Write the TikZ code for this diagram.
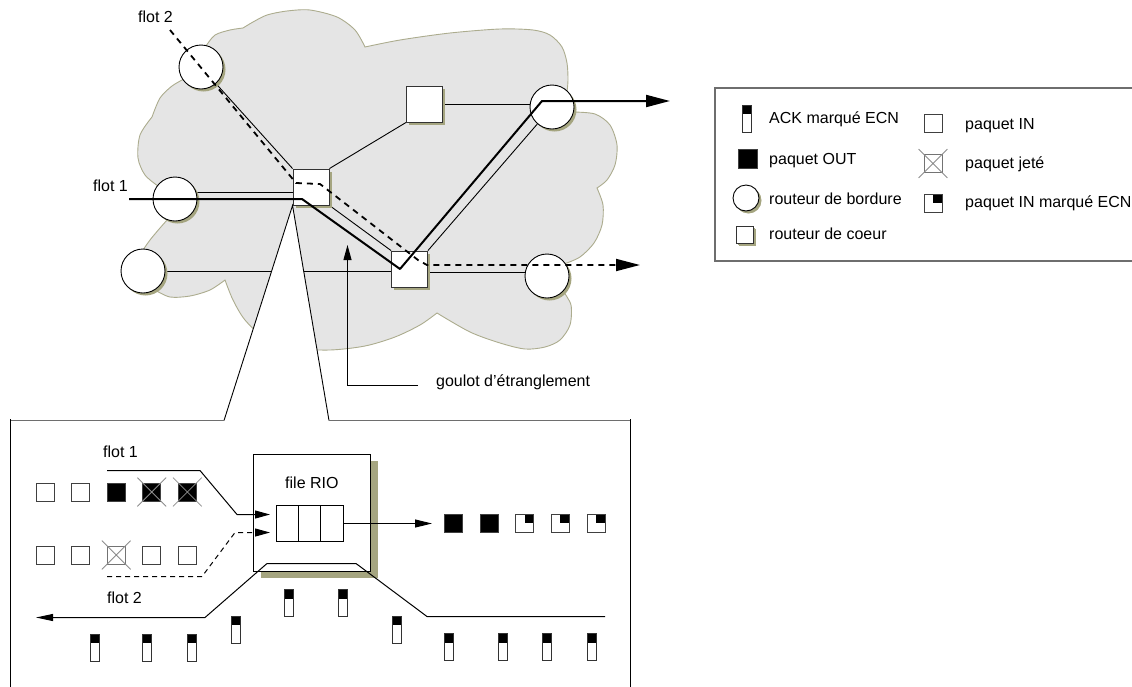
\documentclass[tikz,border=0pt]{standalone}
\usepackage{fontspec}
\setmainfont{Liberation Sans}
\usetikzlibrary{arrows.meta,shadows,calc}
\definecolor{cloudfill}{RGB}{229,229,229}
\definecolor{cloudline}{RGB}{172,172,142}
\definecolor{olivesh}{RGB}{165,165,128}
\definecolor{framegray}{RGB}{110,110,110}
\pgfdeclarelayer{back}
\pgfdeclarelayer{mid}
\pgfdeclarelayer{front}
\pgfsetlayers{back,mid,main,front}
\tikzset{
 lbl/.style={font=\fontsize{16}{19}\selectfont, inner sep=0pt, anchor=base west},
 shad/.style={drop shadow={fill=olivesh, opacity=1, shadow xshift=#1, shadow yshift=-#1}},
 edger/.style={circle, draw, fill=white, line width=0.9pt, minimum size=44pt, inner sep=0pt, shad=2.5pt},
 corer/.style={rectangle, draw=black!80, fill=white, line width=0.9pt, minimum size=36pt, inner sep=0pt, shad=2.5pt},
 link/.style={line width=0.9pt},
 flowA/.style={line width=2pt, line join=round, -{Triangle[length=24pt,width=12pt]}},
 flowB/.style={line width=1.8pt, dash pattern=on 6pt off 5pt, -{Triangle[length=24pt,width=12pt]}},
 pkt/.style={rectangle, draw=black!75, fill=white, line width=0.8pt, minimum size=18pt, inner sep=0pt},
 pout/.style={pkt, fill=black},
 pecn/.style={pkt, path picture={\fill[black] (path picture bounding box.north east) rectangle (path picture bounding box.center);}},
 ack/.style={rectangle, draw=black!80, fill=white, line width=0.8pt, minimum width=9pt, minimum height=27pt, inner sep=0pt, path picture={\fill[black] (path picture bounding box.north west) rectangle ([yshift=-9pt]path picture bounding box.north east);}},
 xmark/.style={draw=black!45, line width=0.8pt},
 sarrow/.style={line width=1pt, -{Triangle[length=15pt,width=8pt]}},
 qcell/.style={rectangle, draw, fill=white, line width=0.9pt, minimum width=22.33pt, minimum height=36pt, inner sep=0pt},
}
\begin{document}
\begin{tikzpicture}[x=1pt,y=-1pt]
\useasboundingbox (0,0) rectangle (1132,686);

% ---------- top network nodes ----------
\node[edger] (A) at (201,67) {};
\node[edger] (B) at (175,199) {};
\node[edger] (C) at (143,271) {};
\node[edger] (D) at (552,107) {};
\node[edger] (E) at (547,276) {};
\node[corer] (S1) at (311,187) {};
\node[corer] (S2) at (409.5,269) {};
\node[corer] (S3) at (424.5,104) {};

\node[lbl] (tf2) at (138,22) {flot 2};
\node[lbl] (tf1) at (93,191) {flot 1};
\node[lbl] (tgl) at (436,386) {goulot d’étranglement};

% ---------- cloud ----------
\begin{pgfonlayer}{back}
\path[fill=cloudfill, draw=cloudline, line width=0.9pt]
 plot[smooth] coordinates {(206,46) (215,35) (230,30) (243,28)}
 -- plot[smooth] coordinates {(243,28) (253,22) (267,15) (287,11) (310,10) (337,17) (355,30) (365,47)}
 -- plot[smooth] coordinates {(365,47) (400,40) (450,33) (500,29) (533,30) (550,35) (562,47) (567,63) (568,80) (567,92)}
 -- plot[smooth] coordinates {(573,112) (595,114) (610,125) (617,145) (615,165) (607,180) (597,188)}
 -- plot[smooth] coordinates {(597,188) (603,205) (602,225) (594,243) (580,257) (564,264)}
 -- plot[smooth] coordinates {(563,291) (571,305) (570,325) (560,340) (545,347) (525,349) (500,343) (470,332) (437,313)}
 -- plot[smooth] coordinates {(437,313) (420,325) (395,337) (365,346) (330,350) (295,348) (265,338) (245,320) (233,300) (225,280)}
 -- plot[smooth] coordinates {(225,280) (210,290) (190,296) (170,297) (155,290)}
 -- plot[smooth] coordinates {(143,250) (150,240) (160,228) (168,219)}
 -- plot[smooth] coordinates {(158,186) (145,175) (138,158) (140,135) (152,117)}
 -- plot[smooth] coordinates {(152,117) (160,98) (172,86) (184,79)}
 -- cycle;
\end{pgfonlayer}

% ---------- links and zoom triangle ----------
\coordinate (z1) at (224,420.5);
\coordinate (z2) at (329,420.5);
\begin{pgfonlayer}{mid}
\draw[link] (B.16) -- (B.16 -| S1.west);
\draw[link] (A) -- (S1.north west);
\draw[link] (S1.north east) -- (S3.south west);
\draw[link] (S3.east) -- (S3.east -| D.west);
\draw[link] (S1.south east) -- (S2.north west);
\draw[link] (S2.north east) -- (D);
\draw[link] (C.east) -- (C.east -| S2.west);
\draw[link] (E.172 -| S2.east) -- (E.172);
\fill[white] (S1.south west) -- (z1) -- (z2) -- cycle;
\draw[link] (z1) -- (S1.south west) -- (z2);
\end{pgfonlayer}

% ---------- flows ----------
\coordinate (f1a) at (129,199);
\coordinate (f1b) at (302,199);
\coordinate (f1c) at (400,269);
\coordinate (f1d) at (542,101);
\coordinate (f1e) at (670,101);
\coordinate (f2a) at (170,30);
\coordinate (f2b) at (296,183);
\coordinate (f2c) at (320,184);
\coordinate (f2d) at (418,260);
\coordinate (f2e) at (427,265);
\coordinate (f2f) at (640,265);
\coordinate (g1) at (418,385.5);
\coordinate (g2) at (347.5,385.5);
\coordinate (g3) at (347.5,245);
\begin{pgfonlayer}{front}
\draw[flowA] (f1a) -- (f1b) -- (f1c) -- (f1d) -- (f1e);
\draw[flowB] (f2a) -- (f2b) -- (f2c) -- (f2d) -- (f2e) -- (f2f);
\draw[line width=1pt, -{Triangle[length=15pt,width=8pt]}] (g1) -- (g2) -- (g3);
\end{pgfonlayer}

% ---------- legend ----------
\draw[line width=1.3pt, draw=framegray] (715,88) rectangle (1140,261);
\node[ack] (lack) at (746.5,118.5) {};
\node[pout, minimum size=19pt] (lout) at (747.5,158.5) {};
\node[edger, minimum size=26pt, shad=2pt] (lbr) at (746,198) {};
\node[corer, minimum size=17pt, shad=1.5pt] (lcr) at (744.5,235) {};
\node[pkt] (lin) at (933,123.5) {};
\node[pkt, draw=black!55] (ljt) at (933,163.5) {};
\node[pecn] (lecn) at (933,203) {};
\node[lbl] (tl1) at (769,123) {ACK marqué ECN};
\node[lbl] (tl2) at (769,164) {paquet OUT};
\node[lbl] (tl3) at (769,204) {routeur de bordure};
\node[lbl] (tl4) at (769,239) {routeur de coeur};
\node[lbl] (tl5) at (965,129) {paquet IN};
\node[lbl] (tl6) at (965,168) {paquet jeté};
\node[lbl] (tl7) at (965,207) {paquet IN marqué ECN};

% ---------- zoomed router ----------
\draw[line width=1.8pt, draw=framegray] (z1) -- (10,420.5) (z2) -- (630,420.5);
\draw[line width=1pt] (10.5,419) -- (10.5,690) (630.5,419) -- (630.5,690);

\node[rectangle, draw, fill=white, line width=0.9pt, minimum size=117pt, inner sep=0pt,
      drop shadow={fill=olivesh, opacity=1, shadow xshift=8pt, shadow yshift=-7pt}] (rio) at (311.5,512.5) {};
\node[lbl] (trio) at (285,488) {file RIO};
\node[qcell] (q1) at (287.2,523) {};
\node[qcell] (q2) at (309.5,523) {};
\node[qcell] (q3) at (331.8,523) {};

\foreach \i/\s in {0/pkt,1/pkt,2/pout,3/pout,4/pout}
  \node[\s] (pa\i) at ({45+35.6*\i},492) {};
\foreach \i/\s in {0/pkt,1/pkt,2/pkt,3/pkt,4/pkt}
  \node[\s] (pb\i) at ({45+35.6*\i},555) {};
\node[pkt, draw=black!55] at (pb2) {};
\foreach \i/\s in {0/pout,1/pout,2/pecn,3/pecn,4/pecn}
  \node[\s] (pc\i) at ({453.5+35.6*\i},523) {};
\foreach \n in {pa3,pa4,pb2,ljt}
  \draw[xmark] ([shift={(-5pt,5pt)}]\n.north west) -- ([shift={(5pt,-5pt)}]\n.south east)
               ([shift={(5pt,5pt)}]\n.north east) -- ([shift={(-5pt,-5pt)}]\n.south west);

\foreach \x/\y [count=\k] in {94.5/647.5, 146.5/647.5, 191.5/647.5, 235.5/629.5, 288.5/603, 342.5/603, 396.5/629.5, 448.5/647, 502.5/647, 546.5/647, 591.5/647}
  \node[ack] (ack\k) at (\x,\y) {};

\node[lbl] (tb1) at (103,457) {flot 1};
\node[lbl] (tb2) at (107,603) {flot 2};

\coordinate (b1a) at (107,470.5);
\coordinate (b1b) at (200,470.5);
\coordinate (b1c) at (237,514.5);
\coordinate (b1d) at (270,514.5);
\coordinate (b2a) at (107,576.5);
\coordinate (b2b) at (202,576.5);
\coordinate (b2c) at (235,532.5);
\coordinate (b2d) at (270,532.5);
\coordinate (bo) at (432,523.5);
\coordinate (r1) at (605,616.5);
\coordinate (r2) at (427,616.5);
\coordinate (r3) at (356,563.5);
\coordinate (r4) at (267,563.5);
\coordinate (r5) at (205,617.5);
\coordinate (r6) at (36,617.5);
\draw[sarrow] (b1a) -- (b1b) -- (b1c) -- (b1d);
\draw[sarrow, dash pattern=on 5pt off 4pt] (b2a) -- (b2b) -- (b2c) -- (b2d);
\draw[line width=1pt, -{Triangle[length=17pt,width=8pt]}] (q3.east |- bo) -- (bo);
\draw[line width=1pt, -{Triangle[length=17pt,width=7pt]}] (r1) -- (r2) -- (r3) -- (r4) -- (r5) -- (r6);
\end{tikzpicture}
\end{document}
